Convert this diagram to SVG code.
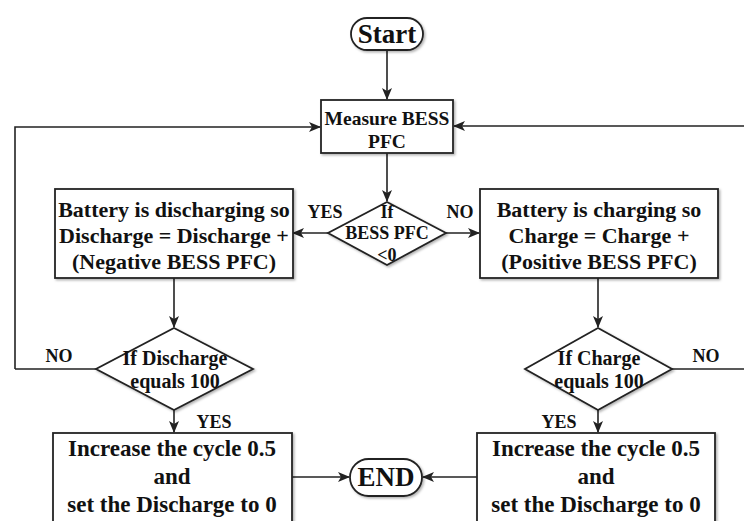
<svg xmlns="http://www.w3.org/2000/svg" width="744" height="521" viewBox="0 0 744 521" font-family="Liberation Serif, Times New Roman, Tinos, Noto Serif, serif">
<defs>
<style>
.n{fill:#fff;stroke:#222;stroke-width:1.8}
.t{font-weight:700;fill:#111;text-anchor:middle}
.c{fill:none;stroke:#222;stroke-width:1.6}
</style>
<marker id="ah" markerWidth="12" markerHeight="10" refX="11" refY="5" orient="auto" markerUnits="userSpaceOnUse">
<path d="M0,0 L12,5 L0,10 L3,5 Z" fill="#222"/>
</marker>
<filter id="sh" x="-10%" y="-10%" width="120%" height="130%">
<feDropShadow dx="1.5" dy="1.5" stdDeviation="1.2" flood-color="#000" flood-opacity="0.3"/>
</filter>
</defs>
<rect width="744" height="521" fill="#fff"/>

<g id="connectors">
<path class="c" d="M387,50 V99" marker-end="url(#ah)"/>
<path class="c" d="M15,369 H96 M15,369 V127 H320" marker-end="url(#ah)"/>
<path class="c" d="M744,126 H454" marker-end="url(#ah)"/>
<path class="c" d="M387,153 V201" marker-end="url(#ah)"/>
<path class="c" d="M328,233 H293" marker-end="url(#ah)"/>
<path class="c" d="M446,233 H479" marker-end="url(#ah)"/>
<path class="c" d="M174,278 V327" marker-end="url(#ah)"/>
<path class="c" d="M598,278 V327" marker-end="url(#ah)"/>
<path class="c" d="M174,410 V432" marker-end="url(#ah)"/>
<path class="c" d="M598,410 V432" marker-end="url(#ah)"/>
<path class="c" d="M672,369 H744"/>
<path class="c" d="M292,477 H349" marker-end="url(#ah)"/>
<path class="c" d="M477,477 H423" marker-end="url(#ah)"/>
<text class="t" x="325" y="218" font-size="18">YES</text>
<text class="t" x="460" y="218" font-size="18">NO</text>
<text class="t" x="59" y="362" font-size="18">NO</text>
<text class="t" x="706" y="362" font-size="18">NO</text>
<text class="t" x="214" y="428" font-size="18">YES</text>
<text class="t" x="559" y="428" font-size="18">YES</text>
</g>

<g id="start">
<rect class="n" x="351" y="18" width="72" height="32" rx="16" filter="url(#sh)"/>
<text class="t" x="387" y="43" font-size="27">Start</text>
</g>

<g id="measure">
<rect class="n" x="321" y="100" width="132" height="53" filter="url(#sh)"/>
<text class="t" x="387" y="125" font-size="19.5">Measure BESS</text>
<text class="t" x="387" y="148" font-size="19.5">PFC</text>
</g>

<g id="decision-pfc">
<polygon class="n" points="387,202 446,233 387,265 328,233" filter="url(#sh)"/>
<text class="t" x="387" y="218" font-size="18">If</text>
<text class="t" x="387" y="239" font-size="18">BESS PFC</text>
<text class="t" x="387" y="261" font-size="18">&lt;0</text>
</g>

<g id="discharging">
<rect class="n" x="55" y="189" width="238" height="89" filter="url(#sh)"/>
<text class="t" x="174" y="217" font-size="22">Battery is discharging so</text>
<text class="t" x="174" y="243" font-size="22">Discharge = Discharge +</text>
<text class="t" x="174" y="269" font-size="22">(Negative BESS PFC)</text>
</g>

<g id="charging">
<rect class="n" x="480" y="189" width="238" height="89" filter="url(#sh)"/>
<text class="t" x="599" y="217" font-size="22">Battery is charging so</text>
<text class="t" x="599" y="243" font-size="22">Charge = Charge +</text>
<text class="t" x="599" y="269" font-size="22">(Positive BESS PFC)</text>
</g>

<g id="decision-discharge">
<polygon class="n" points="174,328 253,369 174,410 96,369" filter="url(#sh)"/>
<text class="t" x="175" y="365" font-size="20">If Discharge</text>
<text class="t" x="175" y="388" font-size="20">equals 100</text>
</g>

<g id="decision-charge">
<polygon class="n" points="598,328 672,369 598,410 525,369" filter="url(#sh)"/>
<text class="t" x="599" y="365" font-size="20">If Charge</text>
<text class="t" x="599" y="388" font-size="20">equals 100</text>
</g>

<g id="cycle-left">
<rect class="n" x="53" y="433" width="239" height="100" filter="url(#sh)"/>
<text class="t" x="172" y="456" font-size="23">Increase the cycle 0.5</text>
<text class="t" x="172" y="484" font-size="23">and</text>
<text class="t" x="172" y="512" font-size="23">set the Discharge to 0</text>
</g>

<g id="cycle-right">
<rect class="n" x="477" y="433" width="238" height="100" filter="url(#sh)"/>
<text class="t" x="596" y="456" font-size="23">Increase the cycle 0.5</text>
<text class="t" x="596" y="484" font-size="23">and</text>
<text class="t" x="596" y="512" font-size="23">set the Discharge to 0</text>
</g>

<g id="end">
<rect class="n" x="350" y="459" width="72" height="37" rx="18.5" filter="url(#sh)"/>
<text class="t" x="386" y="486" font-size="27">END</text>
</g>
</svg>
